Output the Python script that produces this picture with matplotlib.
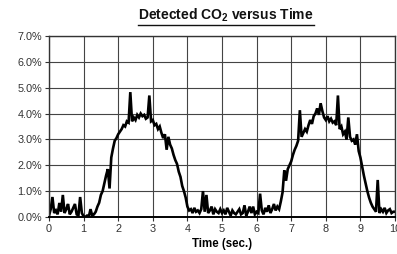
import numpy as np
import matplotlib
matplotlib.use("Agg")
import matplotlib.pyplot as plt
from matplotlib.lines import Line2D
from matplotlib.ticker import FuncFormatter

plt.rcParams['font.family'] = ['Liberation Sans', 'DejaVu Sans']
plt.rcParams['mathtext.fontset'] = 'custom'
plt.rcParams['mathtext.rm'] = 'Liberation Sans'
plt.rcParams['mathtext.bf'] = 'Liberation Sans:bold'

# detected CO2 (%), logged every 0.05 s from t = 0 to 10 s
SAMPLE_DT = 0.05
co2 = [
    0.05, 0.30, 0.77, 0.15, 0.25, 0.10, 0.54, 0.20, 0.85, 0.15, 0.30, 0.50, 0.10, 0.20, 0.35, 0.50, 0.10, 0.05, 0.77, 0.15,
    0.02, 0.00, 0.05, 0.00, 0.30, 0.05, 0.10, 0.20, 0.40, 0.55, 0.85, 1.00, 1.30, 1.60, 1.85, 1.10, 2.30, 2.65, 2.95, 3.05,
    3.20, 3.30, 3.40, 3.55, 3.50, 3.70, 3.65, 4.83, 3.70, 3.85, 3.75, 3.95, 3.85, 4.00, 3.90, 3.95, 3.80, 3.85, 4.70, 3.70,
    3.75, 3.55, 3.60, 3.40, 3.50, 3.25, 3.05, 3.20, 2.60, 3.10, 2.80, 2.65, 2.40, 2.20, 2.05, 1.75, 1.55, 1.20, 1.00, 0.75,
    0.40, 0.25, 0.30, 0.15, 0.35, 0.20, 0.25, 0.15, 0.30, 1.00, 0.20, 0.85, 0.15, 0.25, 0.40, 0.10, 0.30, 0.20, 0.15, 0.30,
    0.15, 0.25, 0.10, 0.35, 0.20, 0.05, 0.25, 0.15, 0.10, 0.20, 0.30, 0.10, 0.15, 0.45, 0.05, 0.20, 0.40, 0.15, 0.40, 0.10,
    0.20, 0.15, 0.90, 0.25, 0.10, 0.35, 0.20, 0.45, 0.15, 0.30, 0.50, 0.25, 0.40, 0.30, 0.60, 0.95, 1.80, 1.40, 1.85, 2.00,
    2.15, 2.40, 2.60, 2.75, 2.95, 4.13, 3.10, 3.25, 3.40, 3.30, 3.55, 3.75, 3.60, 3.90, 4.00, 4.20, 3.95, 4.40, 4.10, 3.85,
    3.75, 3.90, 3.70, 3.80, 3.65, 3.70, 3.55, 4.70, 3.40, 3.50, 3.20, 3.30, 3.00, 3.85, 3.10, 2.95, 3.00, 2.80, 3.20, 2.55,
    2.30, 1.95, 1.60, 1.30, 1.00, 0.75, 0.55, 0.40, 0.30, 0.20, 1.43, 0.15, 0.30, 0.20, 0.35, 0.15, 0.25, 0.30, 0.15, 0.20,
    0.20,
]
t = np.arange(len(co2)) * SAMPLE_DT

fig = plt.figure(figsize=(3.97, 2.54), dpi=100)
ax = fig.add_axes([0.1234, 0.146, 0.8716, 0.712])

ax.plot(t, co2, color='black', lw=1.9, solid_joinstyle='miter')

ax.set_xlim(0, 10)
ax.set_ylim(0, 7)
ax.set_xticks(range(0, 11))
ax.set_yticks(range(0, 8))
ax.yaxis.set_major_formatter(FuncFormatter(lambda v, _: f"{v:.1f}%"))
ax.grid(True, color='#444444', lw=0.8)
ax.set_axisbelow(True)
for s in ax.spines.values():
    s.set_color('#333333')
    s.set_linewidth(1.0)
ax.spines['bottom'].set_color('black')
ax.spines['bottom'].set_linewidth(1.4)
ax.tick_params(axis='both', labelsize=7.8, colors='#333333', length=3, width=0.8, pad=2)
ax.set_xlabel('Time (sec.)', fontsize=8.3, fontweight='bold', labelpad=3)

title = fig.text(0.569, 0.921, r'Detected CO$_\mathbf{2}$ versus Time', ha='center', va='baseline',
                 fontsize=10, fontweight='bold', color='#111111')
fig.canvas.draw()
bb = title.get_window_extent().transformed(fig.transFigure.inverted())
fig.add_artist(Line2D([bb.x0, bb.x1], [bb.y0 - 0.004, bb.y0 - 0.004], color='#111111', lw=1.0))

fig.savefig('out.png', dpi=100)
